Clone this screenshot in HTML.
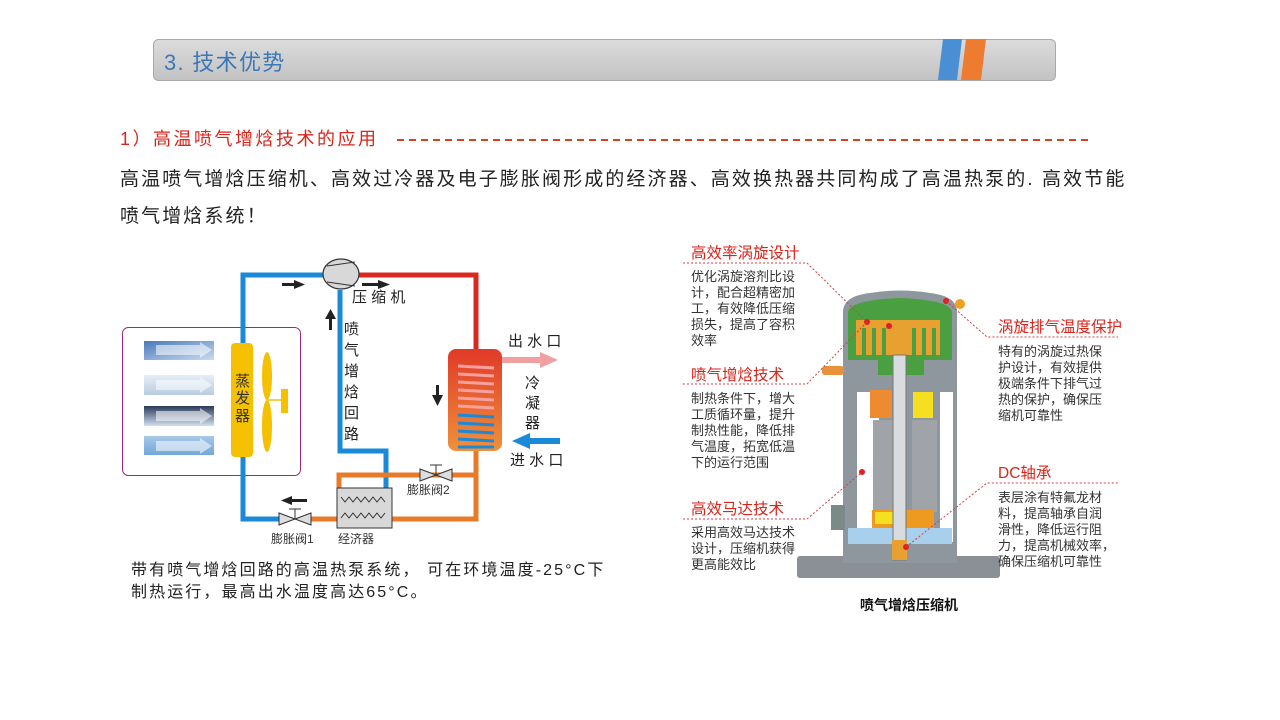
<!DOCTYPE html>
<html><head><meta charset="utf-8"><style>
body{margin:0;width:1280px;height:720px;background:#fff;overflow:hidden;font-family:"Liberation Sans","Noto Sans CJK SC",sans-serif;}
svg{position:absolute;left:0;top:0}
</style></head><body>
<svg width="1280" height="720" viewBox="0 0 1280 720" font-family="Liberation Sans, Noto Sans CJK SC, sans-serif">
<defs>
<linearGradient id="hb" x1="0" y1="0" x2="0" y2="1"><stop offset="0" stop-color="#dcdcdc"/><stop offset="1" stop-color="#c2c2c2"/></linearGradient>
<linearGradient id="cd" x1="0" y1="0" x2="0" y2="1"><stop offset="0" stop-color="#e03a28"/><stop offset="1" stop-color="#f0903a"/></linearGradient>
<linearGradient id="t1" x1="0" y1="0" x2="1" y2="1"><stop offset="0" stop-color="#4a78b8"/><stop offset="1" stop-color="#c8dcf0"/></linearGradient>
<linearGradient id="t2" x1="0" y1="0" x2="0" y2="1"><stop offset="0" stop-color="#e6eef6"/><stop offset="1" stop-color="#b8cce0"/></linearGradient>
<linearGradient id="t3" x1="0" y1="0" x2="0" y2="1"><stop offset="0" stop-color="#2a3a58"/><stop offset="1" stop-color="#d0e0f0"/></linearGradient>
<linearGradient id="t4" x1="0" y1="0" x2="0" y2="1"><stop offset="0" stop-color="#a8c8e8"/><stop offset="1" stop-color="#70a8d8"/></linearGradient>
</defs>
<rect x="153.5" y="39.5" width="902" height="41" rx="5" fill="url(#hb)" stroke="#a8a8a8"/>
<polygon points="943,39 962,39 957,80 938,80" fill="#4a8fd4"/>
<polygon points="966,39 986,39 981,80 961,80" fill="#ee7c30"/>
<text x="164" y="70" font-size="22" fill="#3a78b8" letter-spacing="1.3">3. 技术优势</text>
<text x="120" y="145" font-size="18" fill="#d8261c" letter-spacing="2.5">1）高温喷气增焓技术的应用</text>
<line x1="397" y1="140" x2="1090" y2="140" stroke="#d84020" stroke-width="2" stroke-dasharray="7,5"/>
<text x="120" y="185" font-size="19" fill="#222" letter-spacing="2.1">高温喷气增焓压缩机、高效过冷器及电子膨胀阀形成的经济器、高效换热器共同构成了高温热泵的. 高效节能</text>
<text x="120" y="222" font-size="19" fill="#222" letter-spacing="2.1">喷气增焓系统！</text>

<rect x="122.5" y="327.5" width="178" height="148" rx="6" fill="none" stroke="#9a2a7a"/>
<rect x="144" y="341" width="70" height="19" fill="url(#t1)"/>
<rect x="144" y="375" width="70" height="20" fill="url(#t2)"/>
<rect x="144" y="406" width="70" height="20" fill="url(#t3)"/>
<rect x="144" y="436" width="70" height="19" fill="url(#t4)"/>
<g fill="#fff" opacity="0.55">
<polygon points="156,345 200,345 200,342 212,350 200,358 200,355 156,355"/>
<polygon points="156,380 200,380 200,377 212,385 200,393 200,390 156,390"/>
<polygon points="156,411 200,411 200,408 212,416 200,424 200,421 156,421"/>
<polygon points="156,441 200,441 200,438 212,446 200,454 200,451 156,451"/>
</g>
<g fill="none" stroke-width="5">
<path d="M243,343 V275 H326" stroke="#1a8ad8"/>
<path d="M243,457 V519 H280" stroke="#1a8ad8"/>
<path d="M340,290 V451 H386 V490" stroke="#1a8ad8"/>
<path d="M357,275 H476 V350" stroke="#d82820"/>
<path d="M310,519 H338 M392,519 H476 V451" stroke="#e87a28"/>
<path d="M339,490 V475 H476" stroke="#e87a28"/>
</g>
<rect x="231" y="343" width="22" height="114" rx="4" fill="#f4c000"/>
<text font-size="15" fill="#333"><tspan x="235" y="386">蒸</tspan><tspan x="235" y="403">发</tspan><tspan x="235" y="421">器</tspan></text>
<ellipse cx="267" cy="376" rx="5" ry="24" fill="#f4c000"/>
<ellipse cx="267" cy="426" rx="5" ry="26" fill="#f4c000"/>
<line x1="267" y1="400" x2="282" y2="400" stroke="#f4c000" stroke-width="1.5"/>
<rect x="281" y="389" width="7" height="24" fill="#f4c000"/>
<ellipse cx="341" cy="274" rx="18" ry="15" fill="#d8d8d8" stroke="#333" stroke-width="1.2"/>
<path d="M327,266 L355,262 M327,282 L355,286" stroke="#333" stroke-width="1"/>
<rect x="448" y="349" width="54" height="102" rx="8" fill="url(#cd)"/>
<g stroke-width="3">
<g stroke="#f8a0a0"><line x1="458" y1="366" x2="494" y2="368"/><line x1="458" y1="374" x2="494" y2="376"/><line x1="458" y1="382" x2="494" y2="384"/><line x1="458" y1="390" x2="494" y2="392"/><line x1="458" y1="398" x2="494" y2="400"/><line x1="458" y1="406" x2="494" y2="408"/></g>
<g stroke="#1a8ad8"><line x1="458" y1="415" x2="494" y2="417"/><line x1="458" y1="423" x2="494" y2="425"/><line x1="458" y1="431" x2="494" y2="433"/><line x1="458" y1="439" x2="494" y2="441"/><line x1="458" y1="447" x2="494" y2="447"/></g>
</g>
<polygon points="502,357 540,357 540,352 558,360 540,368 540,363 502,363" fill="#f0a0a0"/>
<polygon points="560,438 530,438 530,433 512,441 530,449 530,444 560,444" fill="#1a8ad8"/>
<rect x="337" y="488" width="55" height="40" fill="#d8d8d8" stroke="#333"/>
<path d="M341,497 l4,5 4,-5 4,5 4,-5 4,5 4,-5 4,5 4,-5 4,5 4,-5 4,5 M341,518 l4,-5 4,5 4,-5 4,5 4,-5 4,5 4,-5 4,5 4,-5 4,5 4,-5" fill="none" stroke="#333"/>
<g fill="#ddd" stroke="#333">
<polygon points="279,513 279,525 311,513 311,525"/><line x1="295" y1="519" x2="295" y2="509"/><line x1="289" y1="509" x2="301" y2="509"/>
<polygon points="420,469 420,481 452,469 452,481"/><line x1="436" y1="475" x2="436" y2="465"/><line x1="430" y1="465" x2="442" y2="465"/>
</g>
<g fill="#222">
<rect x="282" y="283" width="14" height="3"/><polygon points="294,280 305,284.5 294,289"/>
<rect x="362" y="283" width="18" height="3"/><polygon points="378,280 390,284.5 378,289"/>
<rect x="329" y="317" width="3" height="13"/><polygon points="325,319 330.5,309 336,319"/>
<rect x="436" y="385" width="3" height="12"/><polygon points="432,395 437.5,406 443,395"/>
<rect x="290" y="499" width="17" height="3"/><polygon points="292,496 281,500.5 292,505"/>
</g>
<g fill="#222" font-size="15">
<text x="352" y="302">压 缩 机</text>
<text x="344" y="334">喷</text><text x="344" y="355">气</text><text x="344" y="376">增</text><text x="344" y="397">焓</text><text x="344" y="418">回</text><text x="344" y="439">路</text>
<text x="508" y="346">出 水 口</text>
<text x="525" y="388">冷</text><text x="525" y="408">凝</text><text x="525" y="428">器</text>
<text x="510" y="465">进 水 口</text>
</g>
<g fill="#333" font-size="12">
<text x="407" y="494">膨胀阀2</text>
<text x="271" y="543">膨胀阀1</text>
<text x="338" y="543">经济器</text>
</g>
<g fill="#222" font-size="16" letter-spacing="2.1">
<text x="131" y="575">带有喷气增焓回路的高温热泵系统， 可在环境温度-25°C下</text>
<text x="131" y="597">制热运行，最高出水温度高达65°C。</text>
</g>

<rect x="797" y="556" width="203" height="22" rx="3" fill="#8a9096"/>
<path d="M843,563 V312 Q843,296 870,293 Q900,288 930,293 Q957,296 957,312 V563 Z" fill="#8e979e"/>
<path d="M848,360 V312 Q850,300 900,298 Q950,300 952,312 V360 Z" fill="#4aa040"/>
<rect x="856" y="320" width="84" height="35" fill="#e8a030"/>
<g fill="#4aa040"><rect x="862" y="328" width="4" height="27"/><rect x="872" y="328" width="4" height="27"/><rect x="882" y="328" width="4" height="27"/><rect x="912" y="328" width="4" height="27"/><rect x="922" y="328" width="4" height="27"/><rect x="932" y="328" width="4" height="27"/></g>
<rect x="878" y="360" width="46" height="15" fill="#4aa040"/>
<rect x="857" y="392" width="22" height="150" fill="#fff"/>
<rect x="940" y="392" width="13" height="150" fill="#fff"/>
<rect x="873" y="420" width="27" height="92" fill="#a0a4a8"/>
<rect x="912" y="420" width="25" height="92" fill="#a0a4a8"/>
<rect x="870" y="390" width="22" height="28" fill="#ee8a30"/>
<rect x="913" y="392" width="20" height="26" fill="#f4e020"/>
<rect x="872" y="510" width="62" height="18" fill="#ee9a20"/>
<rect x="875" y="512" width="18" height="12" fill="#f4e020"/>
<rect x="848" y="528" width="104" height="16" fill="#a8d0ec"/>
<rect x="893" y="355" width="13" height="205" fill="#d8dcde" stroke="#777"/>
<rect x="892" y="540" width="15" height="20" fill="#e8a030"/>
<rect x="822" y="366" width="22" height="9" rx="3" fill="#e8903a"/>
<ellipse cx="960" cy="304" rx="5" ry="5" fill="#f0a020"/>
<rect x="831" y="505" width="14" height="25" fill="#7a8a86"/>
<g fill="#e02020"><circle cx="867" cy="322" r="3"/><circle cx="889" cy="326" r="3"/><circle cx="946" cy="301" r="3"/><circle cx="862" cy="472" r="3"/><circle cx="906" cy="547" r="3"/></g>
<g fill="none" stroke="#d04040" stroke-width="1" stroke-dasharray="2,2">
<path d="M683,263 H807 L867,322"/>
<path d="M683,384 H807 L867,322"/>
<path d="M683,519 H807 L862,472"/>
<path d="M946,301 L987,337 H1118"/>
<path d="M906,547 L987,483 H1118"/>
</g>
<g fill="#d8261c" font-size="15.5">
<text x="691" y="258">高效率涡旋设计</text>
<text x="691" y="380">喷气增焓技术</text>
<text x="691" y="514">高效马达技术</text>
<text x="998" y="332">涡旋排气温度保护</text>
<text x="998" y="478">DC轴承</text>
</g>
<g fill="#333" font-size="13">
<text x="691" y="281">优化涡旋溶剂比设</text><text x="691" y="297">计，配合超精密加</text><text x="691" y="313">工，有效降低压缩</text><text x="691" y="329">损失，提高了容积</text><text x="691" y="345">效率</text>
<text x="691" y="403">制热条件下，增大</text><text x="691" y="419">工质循环量，提升</text><text x="691" y="435">制热性能，降低排</text><text x="691" y="451">气温度，拓宽低温</text><text x="691" y="467">下的运行范围</text>
<text x="691" y="537">采用高效马达技术</text><text x="691" y="553">设计，压缩机获得</text><text x="691" y="569">更高能效比</text>
<text x="998" y="356">特有的涡旋过热保</text><text x="998" y="372">护设计，有效提供</text><text x="998" y="388">极端条件下排气过</text><text x="998" y="404">热的保护，确保压</text><text x="998" y="420">缩机可靠性</text>
<text x="998" y="502">表层涂有特氟龙材</text><text x="998" y="518">料，提高轴承自润</text><text x="998" y="534">滑性，降低运行阻</text><text x="998" y="550">力，提高机械效率，</text><text x="998" y="566">确保压缩机可靠性</text>
</g>
<text x="909" y="610" font-size="14" font-weight="bold" fill="#111" text-anchor="middle">喷气增焓压缩机</text>
</svg>
</body></html>
